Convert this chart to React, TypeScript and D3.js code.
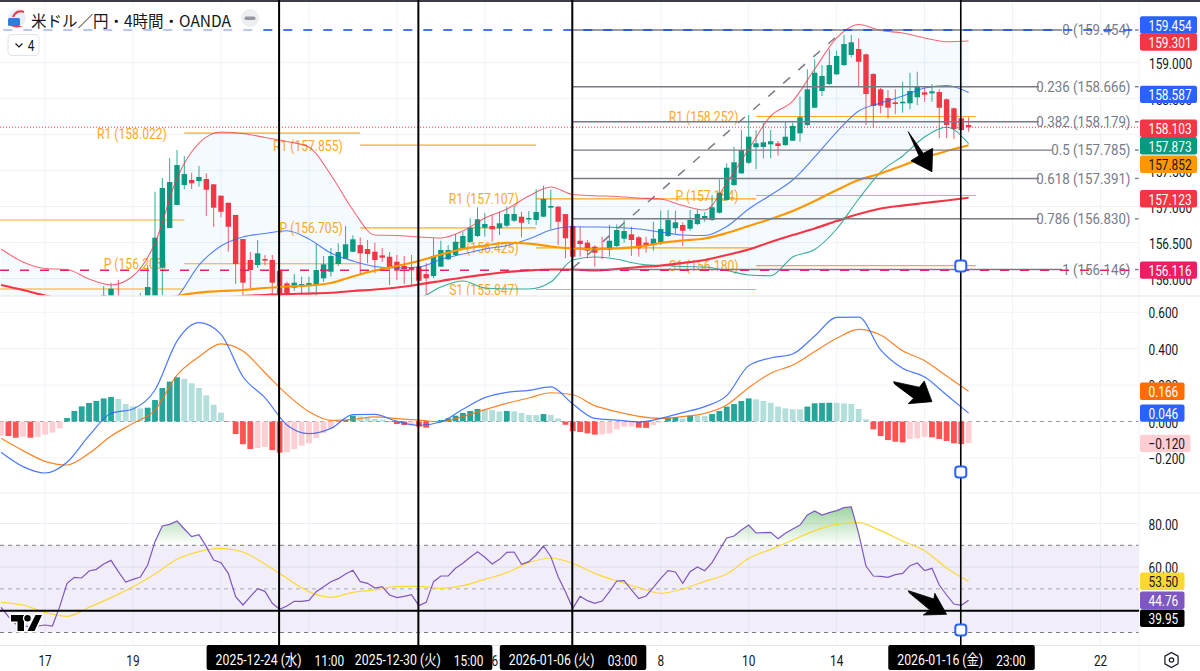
import * as d3 from "d3";

const width = 1200;
const height = 671;
const plotRight = 1139;

// candles, 4h, oldest first
const candleHigh = [
  155.6, 155.62, 155.55, 155.58, 155.5, 155.56, 155.6, 155.58, 155.52, 155.6, 155.54, 155.56, 155.62, 155.7,
  155.896, 155.942, 155.979, 155.729, 155.701, 155.798, 156.187, 157.206, 157.397, 157.675, 157.786, 157.703,
  157.47, 157.564, 157.462, 157.313, 157.151, 157.053, 156.883, 156.549, 156.368, 156.535, 156.327, 156.327,
  156.104, 155.955, 156.062, 156.025, 156.025, 156.489, 156.313, 156.424, 156.489, 156.73, 156.6, 156.572,
  156.535, 156.498, 156.424, 156.368, 156.327, 156.313, 156.327, 156.164, 156.215, 156.559, 156.525, 156.465,
  156.618, 156.646, 156.837, 156.99, 156.91, 156.883, 156.928, 156.998, 157.008, 156.928, 156.938, 157.24,
  157.29, 157.23, 157.008, 156.896, 156.744, 156.72, 156.535, 156.465, 156.581, 156.744, 156.753, 156.813,
  156.72, 156.591, 156.581, 156.789, 156.942, 156.952, 156.942, 156.781, 156.952, 156.962, 156.924, 157.161,
  157.379, 157.601, 157.832, 158.064, 158.273, 158.064, 158.165, 158.064, 157.911, 158.179, 158.165, 158.527,
  158.908, 159.047, 158.967, 159.186, 159.166, 159.385, 159.385, 159.339, 159.127, 158.856, 158.648, 158.62,
  158.63, 158.735, 158.86, 158.874, 158.666, 158.703, 158.63, 158.502, 158.377, 158.241, 158.241,
];
const candleOpen = [
  155.32, 155.5, 155.38, 155.46, 155.3, 155.42, 155.35, 155.48, 155.36, 155.44, 155.38, 155.32, 155.45, 155.52,
  155.632, 155.701, 155.743, 155.562, 155.534, 155.562, 155.59, 155.701, 156.15, 156.702, 157.022, 157.299,
  157.369, 157.355, 157.383, 157.309, 157.151, 157.053, 156.883, 156.549, 156.257, 156.187, 156.271, 156.257,
  156.104, 155.933, 155.872, 155.886, 155.896, 155.914, 156.003, 156.094, 156.201, 156.275, 156.372, 156.465,
  156.41, 156.372, 156.322, 156.303, 156.233, 156.174, 156.155, 156.164, 156.062, 156.035, 156.164, 156.267,
  156.327, 156.42, 156.507, 156.591, 156.706, 156.73, 156.698, 156.734, 156.803, 156.859, 156.831, 156.813,
  156.859, 156.984, 156.998, 156.896, 156.73, 156.525, 156.498, 156.442, 156.42, 156.396, 156.452, 156.553,
  156.614, 156.572, 156.498, 156.465, 156.503, 156.591, 156.698, 156.744, 156.692, 156.757, 156.823, 156.813,
  156.914, 157.091, 157.299, 157.462, 157.609, 157.824, 157.828, 157.865, 157.879, 157.855, 157.915, 158.018,
  158.134, 158.374, 158.606, 158.703, 158.838, 158.967, 159.107, 159.19, 159.116, 158.842, 158.63, 158.509,
  158.449, 158.439, 158.435, 158.519, 158.588, 158.574, 158.592, 158.491, 158.366, 158.227, 158.134,
];
const candleClose = [
  155.5, 155.38, 155.46, 155.3, 155.42, 155.35, 155.48, 155.36, 155.44, 155.38, 155.32, 155.45, 155.52, 155.6,
  155.771, 155.858, 155.632, 155.673, 155.645, 155.743, 155.882, 156.567, 157.258, 157.341, 157.577, 157.452,
  157.323, 157.411, 157.234, 156.984, 156.928, 156.72, 156.201, 155.942, 156.118, 156.35, 156.257, 155.942,
  155.729, 155.794, 155.942, 155.923, 155.937, 156.118, 156.197, 156.313, 156.368, 156.475, 156.545, 156.35,
  156.34, 156.257, 156.289, 156.155, 156.108, 156.128, 156.114, 155.969, 156.003, 156.313, 156.396, 156.396,
  156.511, 156.591, 156.706, 156.823, 156.757, 156.684, 156.767, 156.896, 156.896, 156.775, 156.841, 156.924,
  157.105, 157.008, 156.789, 156.559, 156.303, 156.479, 156.386, 156.358, 156.396, 156.525, 156.674, 156.66,
  156.535, 156.42, 156.452, 156.553, 156.688, 156.813, 156.781, 156.664, 156.813, 156.896, 156.869, 156.99,
  157.192, 157.54, 157.615, 157.786, 157.971, 157.879, 157.893, 157.907, 157.842, 157.971, 158.12, 158.241,
  158.63, 158.86, 158.815, 158.967, 159.093, 159.259, 159.283, 159.013, 158.564, 158.398, 158.402, 158.374,
  158.425, 158.457, 158.606, 158.666, 158.555, 158.602, 158.374, 158.134, 158.078, 158.064, 158.103,
];
const candleLow = [
  155.22, 155.3, 155.28, 155.24, 155.2, 155.25, 155.3, 155.28, 155.26, 155.3, 155.22, 155.24, 155.36, 155.44,
  155.562, 155.645, 155.562, 155.506, 155.479, 155.492, 155.534, 155.618, 155.701, 156.702, 157.022, 157.244,
  157.244, 157.276, 156.869, 156.716, 156.851, 156.372, 155.923, 155.757, 155.868, 156.146, 156.187, 155.757,
  155.701, 155.729, 155.83, 155.784, 155.798, 155.757, 155.951, 156.025, 156.174, 156.271, 156.368, 156.062,
  156.211, 156.072, 156.229, 155.91, 155.979, 155.923, 155.886, 155.951, 155.78, 156.007, 156.16, 156.257,
  156.313, 156.41, 156.493, 156.577, 156.581, 156.511, 156.604, 156.716, 156.785, 156.572, 156.757, 156.743,
  156.855, 156.684, 156.465, 156.281, 156.285, 156.303, 156.281, 156.164, 156.267, 156.303, 156.438, 156.498,
  156.313, 156.303, 156.358, 156.386, 156.465, 156.577, 156.628, 156.452, 156.664, 156.743, 156.789, 156.799,
  156.903, 157.077, 157.286, 157.452, 157.591, 157.518, 157.671, 157.671, 157.707, 157.842, 157.911, 157.901,
  158.12, 158.37, 158.537, 158.69, 158.829, 158.954, 159.075, 158.676, 158.134, 158.101, 158.296, 158.227,
  158.286, 158.304, 158.352, 158.411, 158.457, 158.457, 157.949, 157.949, 157.939, 158.05, 158.04,
];

// overlays are read every third candle
const bbUpper = [
  156.41, 156.229, 156.139, 156.125, 155.993, 155.91, 156.035, 156.493, 157.397, 157.883, 158.036, 158.015,
  157.96, 157.904, 157.828, 157.439, 156.952, 156.605, 156.598, 156.577, 156.563, 156.66, 156.841, 156.966,
  157.147, 157.272, 157.167, 157.151, 157.14, 157.119, 157.105, 157.015, 156.952, 157.327, 157.8, 158.259,
  158.467, 158.912, 159.343, 159.53, 159.447, 159.412, 159.343, 159.291, 159.301,
];
const bbBasis = [
  155.701, 155.673, 155.632, 155.562, 155.52, 155.492, 155.492, 155.59, 155.743, 156.187, 156.452, 156.577,
  156.625, 156.664, 156.549, 156.354, 156.243, 156.167, 156.146, 156.16, 156.264, 156.34, 156.41, 156.458,
  156.549, 156.674, 156.72, 156.716, 156.709, 156.688, 156.646, 156.605, 156.598, 156.723, 156.966, 157.161,
  157.369, 157.689, 158.036, 158.328, 158.439, 158.537, 158.648, 158.683, 158.587,
];
const bbLower = [
  154.978, 155.034, 155.076, 155.076, 155.048, 155.076, 154.936, 154.7, 154.102, 154.492, 154.867, 155.131,
  155.284, 155.423, 155.27, 155.27, 155.534, 155.729, 155.701, 155.729, 155.882, 155.965, 155.868, 155.854,
  155.854, 155.951, 156.257, 156.299, 156.267, 156.201, 156.18, 156.167, 156.16, 156.111, 156.049, 156.039,
  156.299, 156.403, 156.688, 157.105, 157.48, 157.703, 157.967, 158.102, 157.873,
];
const maOrange = [
  155.284, 155.354, 155.395, 155.451, 155.492, 155.534, 155.59, 155.673, 155.757, 155.805, 155.826, 155.84,
  155.868, 155.889, 155.903, 155.937, 156.028, 156.111, 156.174, 156.243, 156.334, 156.41, 156.458, 156.497,
  156.486, 156.445, 156.417, 156.406, 156.417, 156.442, 156.493, 156.528, 156.556, 156.632, 156.73, 156.827,
  156.938, 157.077, 157.23, 157.369, 157.459, 157.571, 157.682, 157.772, 157.852,
];
const maRed = [
  155.91, 155.84, 155.763, 155.701, 155.659, 155.632, 155.632, 155.645, 155.673, 155.701, 155.729, 155.757,
  155.771, 155.784, 155.791, 155.802, 155.826, 155.847, 155.875, 155.917, 155.965, 156.014, 156.055, 156.09,
  156.113, 156.125, 156.125, 156.111, 156.132, 156.16, 156.18, 156.215, 156.257, 156.327, 156.403, 156.507,
  156.604, 156.695, 156.799, 156.896, 156.973, 157.014, 157.049, 157.084, 157.123,
];

const macdLine = [
  -0.169, -0.248, -0.283, -0.224, -0.078, 0.045, 0.069, 0.173, 0.442, 0.543, 0.479, 0.246, 0.131, -0.019, -0.067,
  -0.038, 0.038, 0.039, 0.001, -0.021, -0.003, 0.067, 0.131, 0.16, 0.171, 0.19, 0.096, 0.017, 0.008, -0.003, 0.017,
  0.049, 0.082, 0.142, 0.307, 0.349, 0.371, 0.47, 0.572, 0.574, 0.393, 0.292, 0.245, 0.146, 0.046,
];
const macdSignal = [
  -0.092, -0.16, -0.219, -0.239, -0.175, -0.08, -0.01, 0.063, 0.255, 0.356, 0.426, 0.387, 0.268, 0.149, 0.054,
  0.006, 0.012, 0.025, 0.016, 0.008, -0.001, 0.027, 0.065, 0.1, 0.129, 0.158, 0.147, 0.087, 0.054, 0.028, 0.017,
  0.027, 0.045, 0.091, 0.186, 0.265, 0.31, 0.384, 0.457, 0.506, 0.475, 0.389, 0.334, 0.25, 0.166,
];
const macdHist = [
  -0.078, -0.08, -0.089, -0.083, -0.089, -0.085, -0.072, -0.061, -0.038, 0.019, 0.058, 0.083, 0.102, 0.113, 0.127,
  0.135, 0.124, 0.096, 0.083, 0.072, 0.076, 0.118, 0.184, 0.219, 0.243, 0.234, 0.21, 0.184, 0.144, 0.092, 0.049,
  -0.002, -0.069, -0.125, -0.151, -0.146, -0.14, -0.157, -0.171, -0.169, -0.151, -0.133, -0.12, -0.091, -0.063,
  -0.038, -0.001, 0.008, 0.032, 0.028, 0.023, 0.014, 0.01, -0.003, -0.014, -0.019, -0.015, -0.028, -0.034, -0.003,
  0.008, 0.017, 0.032, 0.047, 0.058, 0.069, 0.065, 0.063, 0.055, 0.058, 0.056, 0.047, 0.036, 0.035, 0.041, 0.036,
  0.017, -0.018, -0.053, -0.058, -0.065, -0.072, -0.071, -0.065, -0.043, -0.028, -0.028, -0.034, -0.035, -0.019,
  -0.005, 0.021, 0.023, 0.017, 0.032, 0.032, 0.03, 0.041, 0.058, 0.082, 0.096, 0.113, 0.127, 0.122, 0.113, 0.103,
  0.082, 0.072, 0.067, 0.067, 0.082, 0.1, 0.102, 0.103, 0.102, 0.1, 0.096, 0.069, 0.012, -0.043, -0.08, -0.102,
  -0.111, -0.115, -0.096, -0.093, -0.084, -0.087, -0.096, -0.107, -0.12, -0.124, -0.12,
];

const rsiLine = [
  41.54, 37.26, 33.9, 32.98, 32.68, 32.98, 33.44, 32.98, 41.85, 52.55, 55.31, 55.0, 58.21, 58.98, 61.42, 63.1, 57.9,
  53.17, 54.39, 55.46, 60.96, 71.67, 78.85, 79.62, 81.15, 77.48, 73.96, 74.88, 69.37, 63.26, 62.03, 57.14, 46.44,
  42.61, 46.44, 50.11, 48.88, 43.38, 40.63, 42.16, 44.3, 44.3, 44.76, 48.73, 51.03, 53.32, 54.7, 56.84, 58.52, 53.32,
  52.55, 50.41, 51.03, 47.2, 45.98, 46.59, 47.35, 42.31, 43.84, 53.32, 55.92, 55.92, 59.44, 61.73, 64.48, 67.08,
  64.48, 61.42, 63.56, 66.77, 66.93, 61.27, 62.49, 65.55, 69.68, 64.79, 55.61, 48.73, 41.08, 46.59, 44.6, 43.38,
  44.45, 48.73, 53.62, 53.77, 49.5, 45.52, 46.74, 50.72, 54.85, 58.36, 57.75, 52.55, 57.9, 60.05, 58.36, 62.03, 67.84,
  73.35, 74.27, 77.02, 79.31, 75.64, 75.8, 75.95, 73.04, 75.49, 77.48, 79.31, 83.9, 85.73, 83.9, 84.97, 85.89, 87.26,
  87.57, 75.49, 60.5, 55.92, 55.76, 55.31, 56.53, 57.14, 60.66, 61.88, 58.36, 59.44, 51.79, 47.2, 43.07, 42.46, 44.76,
];
const rsiMa = [
  43.84, 42.61, 39.25, 37.42, 41.54, 45.98, 51.03, 56.84, 63.56, 67.08, 68.61, 66.93, 61.42, 54.85, 48.73, 46.13,
  48.42, 49.5, 51.03, 51.18, 50.26, 51.48, 54.39, 57.45, 62.03, 64.17, 61.73, 57.14, 53.62, 50.57, 47.97, 49.96,
  53.47, 56.84, 64.02, 68.15, 72.43, 76.71, 79.62, 80.38, 76.71, 71.97, 67.54, 59.59, 53.5,
];

// fib retracement
const fibRatio = ["0", "0.236", "0.382", "0.5", "0.618", "0.786", "1"];
const fibPrice = [159.454, 158.666, 158.179, 157.785, 157.391, 156.83, 156.146];
const fibLineEnd = [1062, 1039, 1039, 1052, 1039, 1039, 1062];

// daily pivots: label, price, first candle, last candle
const pivotName = ["", "", "R1", "P", "R1", "P", "R1", "P", "S1", "R1", "P", "S1"];
const pivotPrice = [156.813, 155.854, 158.022, 156.205, 157.855, 156.705, 157.107, 156.425, 155.847, 158.252, 157.154, 156.18];
const pivotFrom = [-1, -1, 25, 25, 49, 49, 73, 73, 73, 103, 103, 103];
const pivotTo = [25, 25, 49, 49, 73, 73, 103, 103, 103, 133, 133, 133];

const priceTicks = [159, 158.5, 158, 157.5, 157, 156.5, 156];
const macdTicks = [0.6, 0.4, 0.2, 0, -0.2];
const rsiTicks = [80, 60];
const gridCandles = [6, 18, 30, 42, 54, 66, 78, 90, 102, 114, 126, 138, 150];
const timeLabels = ["17", "19", "2026", "8", "10", "14", "22"];
const timeLabelCandles = [6, 18, 66, 90, 102, 114, 150];

// vertical markers
const markerCandles = [38, 57, 78, 131];
const markerDates = ["2025-12-24 (水)", "2025-12-30 (火)", "2026-01-06 (火)", "2026-01-16 (金)"];
const markerTimes = ["11:00", "15:00", "03:00", "23:00"];

const upColor = "#089981";
const downColor = "#f23645";
const axisText = "#131722";
const uiFont = "Roboto, 'Noto Sans CJK JP', sans-serif";

const x = d3.scaleLinear().domain([0, 132]).range([1.07, 968.6]);
const yMain = d3.scaleLinear().domain([159.454, 156.146]).range([30, 268]);
const yMacd = d3.scaleLinear().domain([0, 0.6]).range([421.5, 312.3]);
const yRsi = d3.scaleLinear().domain([80, 30]).range([523.5, 632.5]);

const sparseX = (_: number, i: number) => x(i * 3);
const denseX = (_: number, i: number) => x(i);

function Txt({ x, y, sx = 0.79, size = 15, fill = axisText, anchor = "start", opacity, children }: any) {
  return (
    <text
      transform={`translate(${x},${y}) scale(${sx},1)`}
      textAnchor={anchor}
      dominantBaseline="central"
      fontFamily={uiFont}
      fontSize={size}
      fill={fill}
      opacity={opacity}
    >
      {children}
    </text>
  );
}

function Tag({ y, label, bg, fill = "#fff", w = 57 }: any) {
  return (
    <g>
      <rect x={1140} y={y - 8.7} width={w} height={17.4} rx={2} fill={bg} />
      <Txt x={1148.5} y={y + 0.5} fill={fill}>
        {label}
      </Txt>
    </g>
  );
}

function Arrow({ ax, ay, points }: { ax: number; ay: number; points: number[][] }) {
  return (
    <polygon
      points={points.map(([dx, dy]) => `${ax + dx},${ay + dy}`).join(" ")}
      fill="#000"
      stroke="#000"
      strokeWidth={0.8}
      strokeLinejoin="round"
    />
  );
}

function Handle({ cx, cy }: { cx: number; cy: number }) {
  return <rect x={cx - 5.5} y={cy - 5.5} width={11} height={11} rx={3} fill="#fff" stroke="#2962ff" strokeWidth={2} />;
}

export default function App() {
  const sparseLine = (scale: any) =>
    d3.line<number>().x(sparseX).y((d) => scale(d)).curve(d3.curveMonotoneX);

  const bbFill = d3
    .area<number>()
    .x(sparseX)
    .y0((_, i) => yMain(bbLower[i]))
    .y1((d) => yMain(d))
    .curve(d3.curveMonotoneX)(bbUpper)!;

  const rsiPath = d3.line<number>().x(denseX).y((d) => yRsi(d))(rsiLine)!;
  const rsiOver = d3.area<number>().x(denseX).y0(yRsi(70)).y1((d) => yRsi(d))(rsiLine)!;

  const barWidth = 5.4;
  const zeroY = yMacd(0);

  return (
    <svg
      width={width}
      height={height}
      viewBox={`0 0 ${width} ${height}`}
      style={{ position: "absolute", left: 0, top: 0, background: "#fff" }}
    >
      <defs>
        <clipPath id="mainClip">
          <rect x={0} y={0} width={plotRight} height={295.5} />
        </clipPath>
        <clipPath id="overClip">
          <rect x={0} y={480} width={plotRight} height={yRsi(70) - 480} />
        </clipPath>
        <linearGradient id="overFill" gradientUnits="userSpaceOnUse" x1={0} x2={0} y1={yRsi(88)} y2={yRsi(70)}>
          <stop offset="0%" stopColor="#4caf50" stopOpacity={0.55} />
          <stop offset="100%" stopColor="#4caf50" stopOpacity={0} />
        </linearGradient>
      </defs>

      {/* grid */}
      {gridCandles.map((c) => (
        <line key={c} x1={x(c)} x2={x(c)} y1={0} y2={645} stroke="#f0f3fa" />
      ))}
      {priceTicks.map((t) => (
        <line key={t} x1={0} x2={plotRight} y1={yMain(t)} y2={yMain(t)} stroke="#f0f3fa" />
      ))}
      {macdTicks.filter((t) => t !== 0).map((t) => (
        <line key={t} x1={0} x2={plotRight} y1={yMacd(t)} y2={yMacd(t)} stroke="#f0f3fa" />
      ))}
      {rsiTicks.map((t) => (
        <line key={t} x1={0} x2={plotRight} y1={yRsi(t)} y2={yRsi(t)} stroke="#ebedf3" />
      ))}

      {/* main pane */}
      <g clipPath="url(#mainClip)">
        <path d={bbFill} fill="#2196f3" fillOpacity={0.05} />
        {pivotPrice.map((p, i) => (
          <g key={i}>
            <line
              x1={x(pivotFrom[i])}
              x2={x(pivotTo[i])}
              y1={yMain(p)}
              y2={yMain(p)}
              stroke="#ff9800"
              strokeOpacity={0.85}
              strokeWidth={1.2}
            />
            {pivotName[i] && (
              <Txt x={x(pivotFrom[i]) - 17.5} y={yMain(p)} anchor="end" sx={0.81} fill="#ff9800" opacity={0.85}>
                {`${pivotName[i]} (${p.toFixed(3)})`}
              </Txt>
            )}
          </g>
        ))}

        {candleOpen.map((o, i) => {
          const c = candleClose[i];
          const col = c >= o ? upColor : downColor;
          const top = yMain(Math.max(o, c));
          const bottom = yMain(Math.min(o, c));
          return (
            <g key={i}>
              <line
                x1={x(i)}
                x2={x(i)}
                y1={yMain(candleHigh[i])}
                y2={yMain(candleLow[i])}
                stroke={col}
                strokeOpacity={0.8}
                strokeWidth={1}
              />
              <rect
                x={x(i) - barWidth / 2}
                y={top}
                width={barWidth}
                height={Math.max(bottom - top, 1.6)}
                fill={col}
              />
            </g>
          );
        })}

        <path d={sparseLine(yMain)(bbUpper)!} fill="none" stroke="#f23645" strokeOpacity={0.75} strokeWidth={1.1} />
        <path d={sparseLine(yMain)(bbLower)!} fill="none" stroke="#089981" strokeOpacity={0.8} strokeWidth={1.1} />
        <path d={sparseLine(yMain)(bbBasis)!} fill="none" stroke="#2962ff" strokeOpacity={0.8} strokeWidth={1.1} />
        <path d={sparseLine(yMain)(maOrange)!} fill="none" stroke="#ff9800" strokeWidth={2.2} />
        <path d={sparseLine(yMain)(maRed)!} fill="none" stroke="#f23645" strokeWidth={2.2} />
      </g>

      {/* fibonacci */}
      {fibRatio.map((r, i) => {
        const yy = yMain(i === 6 ? 156.125 : fibPrice[i]);
        return (
          <g key={r}>
            <line x1={x(78)} x2={fibLineEnd[i]} y1={yy} y2={yy} stroke="#787b86" strokeWidth={1.4} />
            <line x1={1135} x2={plotRight} y1={yy} y2={yy} stroke="#787b86" strokeWidth={1.4} />
            <Txt x={1130.5} y={yy} anchor="end" sx={0.887} fill="#787b86">
              {`${r} (${fibPrice[i].toFixed(3)})`}
            </Txt>
          </g>
        );
      })}
      <line
        x1={x(78)}
        y1={yMain(156.146)}
        x2={x(115)}
        y2={yMain(159.454)}
        stroke="#787b86"
        strokeWidth={1.5}
        strokeDasharray="9 11"
      />

      {/* price lines */}
      <line x1={0} x2={plotRight} y1={yMain(159.454)} y2={yMain(159.454)} stroke="#0d47e8" strokeWidth={1.5} strokeDasharray="9 11" strokeDashoffset={16.7} />
      <line x1={0} x2={plotRight} y1={yMain(156.116)} y2={yMain(156.116)} stroke="#e91e63" strokeWidth={1.5} strokeDasharray="9 11" />
      <line x1={0} x2={plotRight} y1={yMain(158.103)} y2={yMain(158.103)} stroke="#f23645" strokeWidth={1} strokeDasharray="1 2" />

      {/* macd pane */}
      <line x1={0} x2={plotRight} y1={zeroY} y2={zeroY} stroke="#9598a1" strokeDasharray="4 4" />
      {macdHist.map((h, i) => {
        const prev = i > 0 ? macdHist[i - 1] : h;
        const col = h >= 0 ? (h > prev ? "#26a69a" : "#b2dfdb") : h < prev ? "#ff5252" : "#ffcdd2";
        return (
          <rect
            key={i}
            x={x(i) - 2.9}
            y={Math.min(yMacd(h), zeroY)}
            width={5.8}
            height={Math.abs(yMacd(h) - zeroY)}
            fill={col}
          />
        );
      })}
      <path d={sparseLine(yMacd)(macdSignal)!} fill="none" stroke="#ff6d00" strokeOpacity={0.85} strokeWidth={1.2} />
      <path d={sparseLine(yMacd)(macdLine)!} fill="none" stroke="#2962ff" strokeOpacity={0.85} strokeWidth={1.2} />

      {/* rsi pane */}
      <rect x={0} y={yRsi(70)} width={plotRight} height={yRsi(30) - yRsi(70)} fill="#7e57c2" fillOpacity={0.1} />
      {[70, 50, 30].map((t) => (
        <line key={t} x1={0} x2={plotRight} y1={yRsi(t)} y2={yRsi(t)} stroke="#787b86" strokeOpacity={t === 50 ? 0.6 : 1} strokeDasharray="4 4" />
      ))}
      <path d={rsiOver} fill="url(#overFill)" clipPath="url(#overClip)" />
      <path d={sparseLine(yRsi)(rsiMa)!} fill="none" stroke="#fdd835" strokeWidth={1.2} />
      <path d={rsiPath} fill="none" stroke="#7e57c2" strokeWidth={1.2} />

      {/* pane edges */}
      <line x1={0} x2={width} y1={296} y2={296} stroke="#e0e3eb" />
      <line x1={0} x2={width} y1={493} y2={493} stroke="#eef0f4" />
      <line x1={0} x2={width} y1={645.5} y2={645.5} stroke="#e0e3eb" />
      <line x1={plotRight} x2={plotRight} y1={0} y2={671} stroke="#f0f3fa" />
      <line x1={0} x2={width} y1={1} y2={1} stroke="#3b3e47" strokeWidth={2} />

      {/* time axis */}
      {timeLabels.map((t, i) => (
        <Txt key={t} x={x(timeLabelCandles[i])} y={660} anchor="middle">
          {t}
        </Txt>
      ))}

      {/* manual drawings */}
      <line x1={0} x2={plotRight} y1={yRsi(39.95)} y2={yRsi(39.95)} stroke="#000" strokeWidth={2} />
      {markerCandles.map((c, i) => (
        <line key={c} x1={x(c) - 0.5} x2={x(c) - 0.5} y1={0} y2={646} stroke="#000" strokeWidth={i === 3 ? 1.6 : 2} />
      ))}
      <Handle cx={x(131) - 0.5} cy={yMain(156.174)} />
      <Handle cx={x(131) - 0.5} cy={yMacd(-0.278)} />
      <Handle cx={x(131) - 0.5} cy={yRsi(31.15)} />

      <Arrow ax={x(127)} ay={yMain(157.484)} points={[[-23.7, -40], [-8.7, -18.4], [0.7, -23.4], [0, 0], [-21, -11], [-13, -16]]} />
      <Arrow ax={x(127)} ay={yMacd(0.109)} points={[[-38.3, -20], [-12.6, -14.4], [-7.7, -20.7], [0, 0], [-23.7, 2], [-18.4, -3.4], [-37.5, -17.7]]} />
      <Arrow ax={x(129)} ay={yRsi(38.35)} points={[[-38.2, -23.6], [-12.7, -15.3], [-11.8, -21], [0, 0], [-23.3, 0.7], [-16.7, -4.3], [-37.5, -21.6]]} />

      {/* date labels on the axis */}
      {markerCandles.map((c, i) => (
        <g key={c}>
          <rect x={x(c) - 73} y={645} width={146.5} height={25} rx={2} fill="#000" />
          <Txt x={x(c) - 64} y={660} fill="#fff" sx={0.82}>
            {markerDates[i]}
          </Txt>
          <Txt x={x(c) + 35} y={660} fill="#fff">
            {markerTimes[i]}
          </Txt>
        </g>
      ))}

      {/* price axis */}
      {priceTicks.map((t) => (
        <Txt key={t} x={1149} y={yMain(t) + 0.5}>
          {t.toFixed(3)}
        </Txt>
      ))}
      {macdTicks.map((t) => (
        <Txt key={t} x={1148.5} y={yMacd(t) + 0.5}>
          {t.toFixed(3).replace("-", "−")}
        </Txt>
      ))}
      {rsiTicks.map((t) => (
        <Txt key={t} x={1148.5} y={yRsi(t) + 0.5}>
          {t.toFixed(2)}
        </Txt>
      ))}

      <Tag y={yMain(159.454) - 5} label="159.454" bg="#2962ff" />
      <Tag y={yMain(159.301) + 1} label="159.301" bg="#f23645" />
      <Tag y={yMain(158.587) + 2} label="158.587" bg="#2962ff" />
      <Tag y={yMain(158.103) + 1} label="158.103" bg="#f23645" />
      <Tag y={yMain(157.873) + 2} label="157.873" bg="#089981" />
      <Tag y={yMain(157.852) + 19} label="157.852" bg="#ff9800" fill={axisText} />
      <Tag y={yMain(157.123) + 1} label="157.123" bg="#f23645" />
      <Tag y={yMain(156.116)} label="156.116" bg="#e91e63" />

      <Tag y={yMacd(0.166)} label="0.166" bg="#ff6d00" w={44.5} />
      <Tag y={yMacd(0.046)} label="0.046" bg="#2962ff" w={44.5} />
      <Tag y={yMacd(-0.12)} label="−0.120" bg="#ffcdd2" fill={axisText} w={50.5} />

      <Tag y={yRsi(53.5)} label="53.50" bg="#fdd835" fill={axisText} w={44.5} />
      <Tag y={yRsi(44.76)} label="44.76" bg="#7e57c2" w={44.5} />
      <Tag y={yRsi(39.95) + 7.5} label="39.95" bg="#000" w={44.5} />

      {/* settings icon */}
      <path
        d={d3.line()(d3.range(7).map((k) => {
          const a = Math.PI / 6 + (k * Math.PI) / 3;
          return [1171.5 + 7.6 * Math.cos(a), 660 + 7.6 * Math.sin(a)] as [number, number];
        }))!}
        fill="none"
        stroke={axisText}
        strokeWidth={1.2}
      />
      <circle cx={1171.5} cy={660} r={2.2} fill="none" stroke={axisText} strokeWidth={1.2} />

      {/* tradingview mark */}
      <g fill="#000" stroke="#fff" strokeWidth={3} paintOrder="stroke" strokeLinejoin="round">
        <path d="M11 615H24V631H17.5V621.5H11Z" />
        <circle cx={27.5} cy={618.3} r={3.2} />
        <path d="M35.5 615H42L34.5 631H27.5Z" />
      </g>

      {/* legend */}
      <rect x={0} y={6} width={262} height={26} fill="#fff" fillOpacity={0.6} />
      <circle cx={17} cy={18} r={9} fill="#e8eef8" />
      <rect x={8} y={18} width={12} height={8} rx={1.5} fill="#2f7de1" />
      <path d="M13 17a8 8 0 0 1 11-5" fill="none" stroke="#f23645" strokeWidth={2.2} />
      <path d="M11 26a9 5 0 0 0 12 0Z" fill="#f23645" />
      <text x={31} y={19.5} dominantBaseline="central" fontFamily="'Noto Sans CJK JP', sans-serif" fontSize={15.5} fill={axisText}>
        米ドル／円・4時間・OANDA
      </text>
      <circle cx={250} cy={18} r={9} fill="#eceef2" />
      <rect x={244.5} y={16.5} width={11} height={3.5} rx={1.7} fill="#9598a1" />
      <rect x={8} y={34.5} width={31} height={21} rx={4} fill="#fff" stroke="#e0e3eb" />
      <path d="M15.5 43.5l3.5 3.5 3.5-3.5" fill="none" stroke={axisText} strokeWidth={1.2} />
      <Txt x={31} y={45.5} anchor="middle">4</Txt>
    </svg>
  );
}
